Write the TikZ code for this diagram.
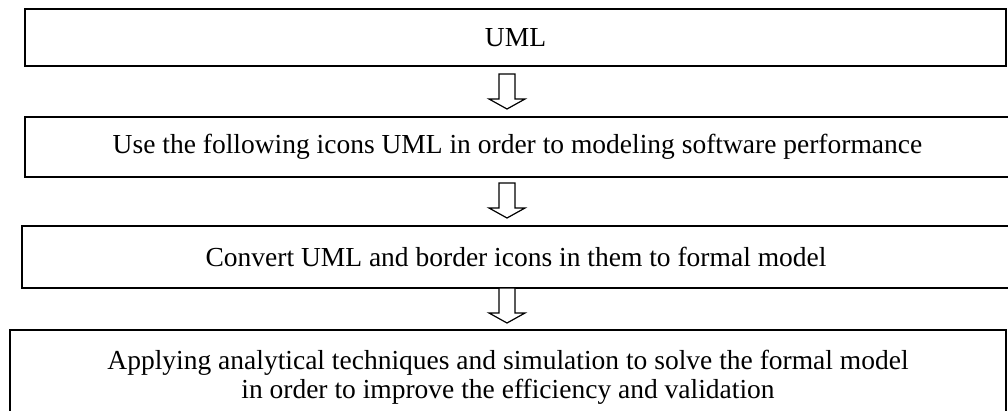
\documentclass[tikz,border=0pt]{standalone}
\usepackage{fontspec}
\setmainfont{Liberation Serif}
\tikzset{
  box/.style={draw, line width=1.4pt, inner sep=0pt, align=center, font=\fontsize{27.5}{29}\selectfont},
  barrow/.pic={
    \draw[line width=1.2pt, line join=miter, fill=white]
      (-8,0) -- (8,0) -- (8,-25) -- (18,-25) -- (0,-35) -- (-18,-25) -- (-8,-25) -- cycle;
  }
}
\begin{document}
\begin{tikzpicture}[x=1pt,y=-1pt]
\useasboundingbox (0,0) rectangle (1008,410);
\node[box, minimum width=981pt, minimum height=57pt] (b1) at (515.5,37.5) {UML};
\node[box, minimum width=985pt, minimum height=60pt] (b2) at (517.5,147) {Use the following icons UML in order to modeling software performance};
\node[box, minimum width=988pt, minimum height=62pt] (b3) at (516,257) {Convert UML and border icons in them to formal model};
\node[box, minimum width=996pt, minimum height=95pt] (b4) at (508,377.5) {Applying analytical techniques and simulation to solve the formal model\\in order to improve the efficiency and validation};
\coordinate (a1) at (507,74);
\coordinate (a2) at (507,183);
\coordinate (a3) at (507,288);
\pic[yscale=-1] at (a1) {barrow};
\pic[yscale=-1] at (a2) {barrow};
\pic[yscale=-1] at (a3) {barrow};
\end{tikzpicture}
\end{document}
